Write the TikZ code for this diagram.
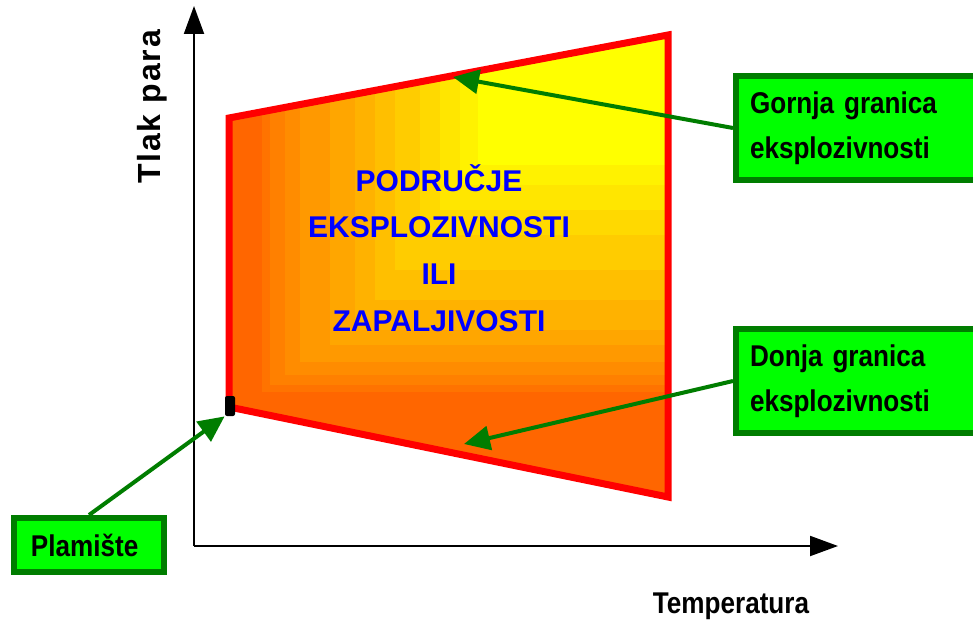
\documentclass[tikz,border=0pt]{standalone}
\usepackage{fontspec}
\setmainfont{Liberation Sans}
\newfontfamily\narrowfont{Liberation Sans}[FakeStretch=0.87]
\newfontfamily\spacedfont{Liberation Sans}[LetterSpace=6]
\usetikzlibrary{
    arrows.meta,
    positioning
}
\definecolor{boxGreen}{RGB}{0,255,0}
\definecolor{darkGreen}{RGB}{0,125,0}
\definecolor{zoneRed}{RGB}{255,0,0}
\definecolor{textBlue}{RGB}{0,0,255}
\tikzset{
  gbox/.style    = {draw=darkGreen, line width=3pt, fill=boxGreen, align=left,
                    text width=114.5pt, inner xsep=7pt, minimum height=52pt,
                    font=\narrowfont\bfseries\fontsize{15}{22.5}\selectfont},
  garr/.style    = {-{Triangle[length=13pt,width=12pt]}, darkGreen, line width=2pt},
  axarr/.style   = {-{Triangle[length=14pt,width=10pt]}, line width=1pt},
  zoneline/.style= {draw=zoneRed, line width=3.5pt, line join=miter},
  lbl/.style     = {font=\narrowfont\bfseries\fontsize{15}{18}\selectfont}
}

\begin{document}
\begin{tikzpicture}[x=0.5pt, y=-0.5pt]
    \clip (0,0) rectangle (973,625);

    % axes
    \coordinate (orig) at (194,546);
    \coordinate (ytip) at (194,6);
    \coordinate (xtip) at (838,546);
    \draw[axarr] (orig) -- (ytip);
    \draw[axarr] (orig) -- (xtip);

    % explosive zone
    \coordinate (tl) at (229,118);
    \coordinate (tr) at (668,35);
    \coordinate (br) at (668,497);
    \coordinate (bl) at (229,407);
    \begin{scope}
      \clip (tl) -- (tr) -- (br) -- (bl) -- cycle;
      \foreach \lx/\by/\g in {229/500/102, 262/392/115, 270/385/128, 285/375/140,
                              300/362/153, 330/345/166, 355/330/178, 375/300/191,
                              395/270/204, 420/235/217, 440/210/230, 460/185/242,
                              478/165/255}
        \fill[color={rgb,255:red,255;green,\g;blue,0}] (\lx,\by) rectangle (680,20);
    \end{scope}
    \draw[zoneline] (tl) -- (tr) -- (br) -- (bl) -- cycle;

    \node[text=textBlue, align=center, font=\bfseries\fontsize{15}{23.3}\selectfont]
      (zonetxt) at (439,248) {PODRUČJE\\EKSPLOZIVNOSTI\\ILI\\ZAPALJIVOSTI};

    \node[fill=black, minimum width=5pt, minimum height=10pt, inner sep=0pt,
          rounded corners=1pt] (flash) at (230,406) {};

    % labels
    \node[gbox, anchor=west] (gornja) at (733,128) {Gornja granica\\eksplozivnosti};
    \node[gbox, below=71.5pt of gornja] (donja) {Donja granica\\eksplozivnosti};
    \node[gbox, anchor=west, text width=58pt, inner xsep=8.5pt, minimum height=27pt]
      (plam) at (11,545) {Plamište};

    \coordinate (gtip) at (453,77);
    \coordinate (dtip) at (464,444);
    \draw[garr] (gornja.west) -- (gtip);
    \draw[garr] (donja.west) -- (dtip);
    \draw[garr] (plam.north) -- (flash.south west);

    \node[rotate=90, font=\spacedfont\bfseries\fontsize{16}{19}\selectfont]
      (tlak) at (152,107) {Tlak para};
    \node[lbl] (temp) at (731,606) {Temperatura};
\end{tikzpicture}
\end{document}
